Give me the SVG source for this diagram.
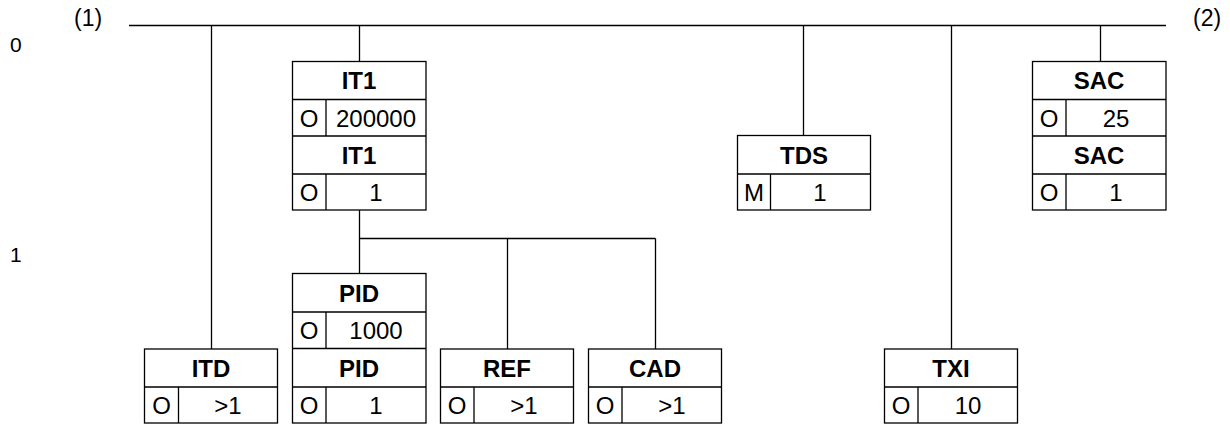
<svg xmlns="http://www.w3.org/2000/svg" width="1230" height="426" viewBox="0 0 1230 426">
<style>
.b{fill:#fff;stroke:#000;stroke-width:1.3}
.l{fill:none;stroke:#000;stroke-width:1.3}
.c{fill:none;stroke:#000;stroke-width:1.3}
text{font-family:"Liberation Sans",Arial,sans-serif;font-size:24px;fill:#000;text-anchor:middle}
.h{font-weight:bold}
.s{font-size:21px;text-anchor:start}
.p{font-size:23px;text-anchor:start}
</style>
<rect width="1230" height="426" fill="#fff"/>
<g id="labels">
<text class="s" x="10" y="52">0</text>
<text class="s" x="10" y="262">1</text>
<text class="p" x="74" y="26">(1)</text>
<text class="p" x="1193" y="26">(2)</text>
</g>
<g id="connectors">
<path class="c" d="M129 25.5H1166"/>
<path class="c" d="M211.5 25.5V349"/>
<path class="c" d="M359.5 25.5V61"/>
<path class="c" d="M359.5 210V273.5"/>
<path class="c" d="M359.5 238.5H655.5"/>
<path class="c" d="M507.5 238.5V349"/>
<path class="c" d="M655.5 238.5V349"/>
<path class="c" d="M803.5 25.5V135.5"/>
<path class="c" d="M951.5 25.5V349"/>
<path class="c" d="M1100.5 25.5V61"/>
</g>
<g id="IT1">
<rect class="b" x="292.5" y="61.5" width="133.5" height="148.5"/>
<path class="l" d="M292.5 99.5H426M292.5 136H426M292.5 174H426M326 99.5V136M326 174V210"/>
<text class="h" x="359" y="89">IT1</text>
<text x="309" y="126.5">O</text>
<text x="376" y="126.5">200000</text>
<text class="h" x="359" y="163.5">IT1</text>
<text x="309" y="200.5">O</text>
<text x="376" y="200.5">1</text>
</g>
<g id="TDS">
<rect class="b" x="737.5" y="135.5" width="133" height="74.5"/>
<path class="l" d="M737.5 174H870.5M770.5 174V210"/>
<text class="h" x="804" y="163.5">TDS</text>
<text x="754" y="200.5">M</text>
<text x="820" y="200.5">1</text>
</g>
<g id="SAC">
<rect class="b" x="1032.5" y="61.5" width="133.5" height="148.5"/>
<path class="l" d="M1032.5 99.5H1166M1032.5 136H1166M1032.5 174H1166M1066 99.5V136M1066 174V210"/>
<text class="h" x="1099" y="89">SAC</text>
<text x="1049" y="126.5">O</text>
<text x="1116" y="126.5">25</text>
<text class="h" x="1099" y="163.5">SAC</text>
<text x="1049" y="200.5">O</text>
<text x="1116" y="200.5">1</text>
</g>
<g id="PID">
<rect class="b" x="292.5" y="273.5" width="133.5" height="149.5"/>
<path class="l" d="M292.5 312H426M292.5 348.5H426M292.5 387H426M326 312V348.5M326 387V423"/>
<text class="h" x="359" y="301.5">PID</text>
<text x="309" y="339">O</text>
<text x="376" y="339">1000</text>
<text class="h" x="359" y="376.5">PID</text>
<text x="309" y="413.5">O</text>
<text x="376" y="413.5">1</text>
</g>
<g id="ITD">
<rect class="b" x="144.5" y="349" width="133" height="74"/>
<path class="l" d="M144.5 387H277.5M178.5 387V423"/>
<text class="h" x="211" y="376.5">ITD</text>
<text x="161.5" y="413.5">O</text>
<text x="228" y="413.5">&gt;1</text>
</g>
<g id="REF">
<rect class="b" x="440.5" y="349" width="133" height="74"/>
<path class="l" d="M440.5 387H573.5M474 387V423"/>
<text class="h" x="507" y="376.5">REF</text>
<text x="457" y="413.5">O</text>
<text x="524" y="413.5">&gt;1</text>
</g>
<g id="CAD">
<rect class="b" x="588.5" y="349" width="133" height="74"/>
<path class="l" d="M588.5 387H721.5M622 387V423"/>
<text class="h" x="655" y="376.5">CAD</text>
<text x="605" y="413.5">O</text>
<text x="672" y="413.5">&gt;1</text>
</g>
<g id="TXI">
<rect class="b" x="884.5" y="349" width="133" height="74"/>
<path class="l" d="M884.5 387H1017.5M918 387V423"/>
<text class="h" x="951" y="376.5">TXI</text>
<text x="901" y="413.5">O</text>
<text x="968" y="413.5">10</text>
</g>
</svg>
